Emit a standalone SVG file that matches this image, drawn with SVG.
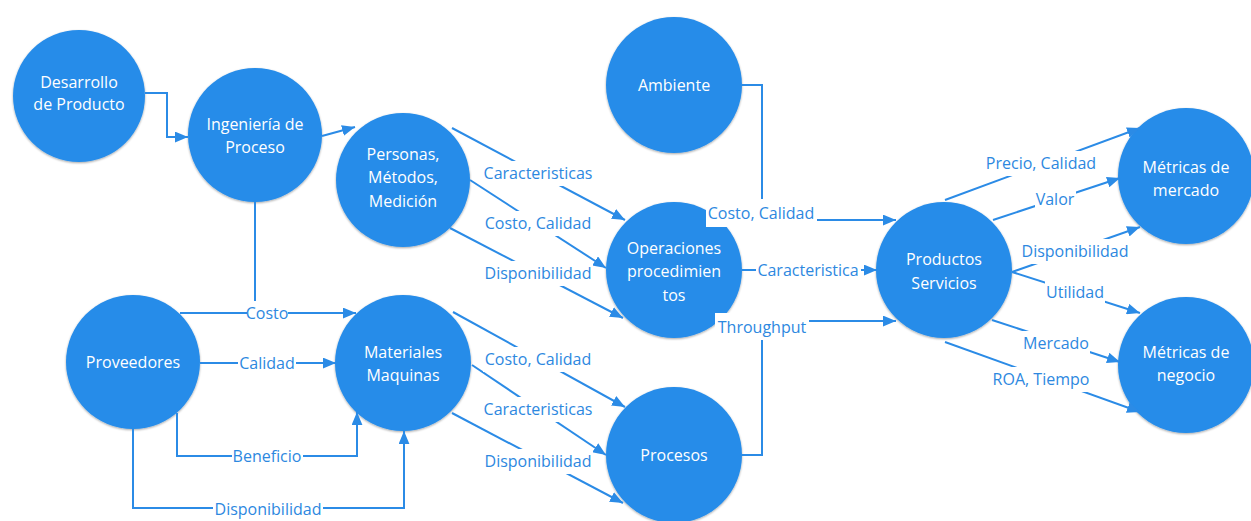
<svg xmlns="http://www.w3.org/2000/svg" width="1251" height="521" viewBox="0 0 1251 521">
<style>
.node{fill:#268CE9;filter:url(#sh)}
.nt{font-family:"Open Sans","Liberation Sans",sans-serif;font-size:16px;fill:#ffffff;text-anchor:middle}
.ln{fill:none;stroke:#2B8BE6;stroke-width:2}
.ar{marker-end:url(#ah)}
.lb{font-family:"Open Sans","Liberation Sans",sans-serif;font-size:16px;fill:#2D88DF;text-anchor:middle}
.bg{fill:#ffffff}
</style>
<defs>
<filter id="sh" x="-10%" y="-10%" width="120%" height="120%">
<feDropShadow dx="0" dy="1" stdDeviation="1.2" flood-color="#000000" flood-opacity="0.35"/>
</filter>
<marker id="ah" viewBox="0 0 12 10" refX="12" refY="5" markerWidth="13" markerHeight="11" markerUnits="userSpaceOnUse" orient="auto">
<path d="M0,0 L12,5 L0,10 Z" fill="#2B8BE6"/>
</marker>
</defs>
<rect width="1251" height="521" fill="#ffffff"/>

<g id="n-desarrollo"><circle class="node" cx="79" cy="96" r="66"/><text class="nt" x="79" y="88">Desarrollo</text><text class="nt" x="79" y="110">de Producto</text></g>
<g id="n-ingenieria"><circle class="node" cx="255" cy="135" r="67"/><text class="nt" x="255" y="130">Ingeniería de</text><text class="nt" x="255" y="153">Proceso</text></g>
<g id="n-personas"><circle class="node" cx="403" cy="180" r="67"/><text class="nt" x="403" y="160">Personas,</text><text class="nt" x="403" y="183">Métodos,</text><text class="nt" x="403" y="207">Medición</text></g>
<g id="n-ambiente"><circle class="node" cx="674" cy="85" r="68"/><text class="nt" x="674" y="91">Ambiente</text></g>
<g id="n-operaciones"><circle class="node" cx="674" cy="270" r="68"/><text class="nt" x="674" y="254">Operaciones</text><text class="nt" x="674" y="277">procedimien</text><text class="nt" x="674" y="301">tos</text></g>
<g id="n-procesos"><circle class="node" cx="674" cy="455" r="68"/><text class="nt" x="674" y="461">Procesos</text></g>
<g id="n-proveedores"><circle class="node" cx="133" cy="362" r="67"/><text class="nt" x="133" y="368">Proveedores</text></g>
<g id="n-materiales"><circle class="node" cx="403" cy="363" r="68"/><text class="nt" x="403" y="358">Materiales</text><text class="nt" x="403" y="381">Maquinas</text></g>
<g id="n-productos"><circle class="node" cx="944" cy="270" r="68"/><text class="nt" x="944" y="265">Productos</text><text class="nt" x="944" y="289">Servicios</text></g>
<g id="n-mercado"><circle class="node" cx="1186" cy="176" r="68"/><text class="nt" x="1186" y="173">Métricas de</text><text class="nt" x="1186" y="196">mercado</text></g>
<g id="n-negocio"><circle class="node" cx="1186" cy="365" r="68"/><text class="nt" x="1186" y="358">Métricas de</text><text class="nt" x="1186" y="381">negocio</text></g>

<g id="connectors">
<path class="ln ar" d="M145,93 H167 V137 H188"/>
<path class="ln ar" d="M322,136 L355,127"/>
<path class="ln" d="M255,202 V313"/>
<path class="ln ar" d="M180,313 H356"/>
<path class="ln ar" d="M200,363 H336"/>
<path class="ln ar" d="M177,413 V456 H357 V412"/>
<path class="ln ar" d="M133,429 V508 H404 V431"/>

<path class="ln ar" d="M452,128 L625,220"/>
<path class="ln ar" d="M470,180 L606,268"/>
<path class="ln ar" d="M450,228 L623,318"/>
<path class="ln ar" d="M453,312 L625,407"/>
<path class="ln ar" d="M472,365 L606,455"/>
<path class="ln ar" d="M452,413 L623,503"/>

<path class="ln ar" d="M742,85 H762 V220 H896"/>
<path class="ln ar" d="M742,270 H877"/>
<path class="ln ar" d="M742,455 H762 V321 H896"/>

<path class="ln ar" d="M945,200 L1140,128"/>
<path class="ln ar" d="M993,220 L1120,178"/>
<path class="ln ar" d="M1012,272 L1140,227"/>
<path class="ln ar" d="M1012,272 L1140,313"/>
<path class="ln ar" d="M992,320 L1120,362"/>
<path class="ln ar" d="M945,342 L1140,412"/>

<rect class="bg" x="482" y="161" width="112" height="25"/><text class="lb" x="538" y="179">Caracteristicas</text>
<rect class="bg" x="483" y="211" width="110" height="25"/><text class="lb" x="538" y="229">Costo, Calidad</text>
<rect class="bg" x="483" y="261" width="110" height="25"/><text class="lb" x="538" y="279">Disponibilidad</text>
<rect class="bg" x="483" y="347" width="110" height="25"/><text class="lb" x="538" y="365">Costo, Calidad</text>
<rect class="bg" x="482" y="397" width="112" height="25"/><text class="lb" x="538" y="415">Caracteristicas</text>
<rect class="bg" x="483" y="449" width="110" height="25"/><text class="lb" x="538" y="467">Disponibilidad</text>

<rect class="bg" x="247" y="301" width="41" height="25"/><text class="lb" x="267" y="319">Costo</text>
<rect class="bg" x="238" y="351" width="58" height="25"/><text class="lb" x="267" y="369">Calidad</text>
<rect class="bg" x="232" y="444" width="71" height="25"/><text class="lb" x="267" y="462">Beneficio</text>
<rect class="bg" x="213" y="497" width="110" height="24"/><text class="lb" x="268" y="515">Disponibilidad</text>

<rect class="bg" x="706" y="199" width="111" height="28"/><text class="lb" x="761" y="219">Costo, Calidad</text>
<rect class="bg" x="756" y="256" width="105" height="27"/><text class="lb" x="808" y="276">Caracteristica</text>
<rect class="bg" x="715" y="313" width="94" height="27"/><text class="lb" x="762" y="333">Throughput</text>

<rect class="bg" x="984" y="151" width="114" height="25"/><text class="lb" x="1041" y="169">Precio, Calidad</text>
<rect class="bg" x="1035" y="187" width="41" height="25"/><text class="lb" x="1055" y="205">Valor</text>
<rect class="bg" x="1021" y="239" width="108" height="25"/><text class="lb" x="1075" y="257">Disponibilidad</text>
<rect class="bg" x="1045" y="280" width="60" height="25"/><text class="lb" x="1075" y="298">Utilidad</text>
<rect class="bg" x="1022" y="331" width="68" height="25"/><text class="lb" x="1056" y="349">Mercado</text>
<rect class="bg" x="990" y="367" width="102" height="25"/><text class="lb" x="1041" y="385">ROA, Tiempo</text>
</g>
</svg>
